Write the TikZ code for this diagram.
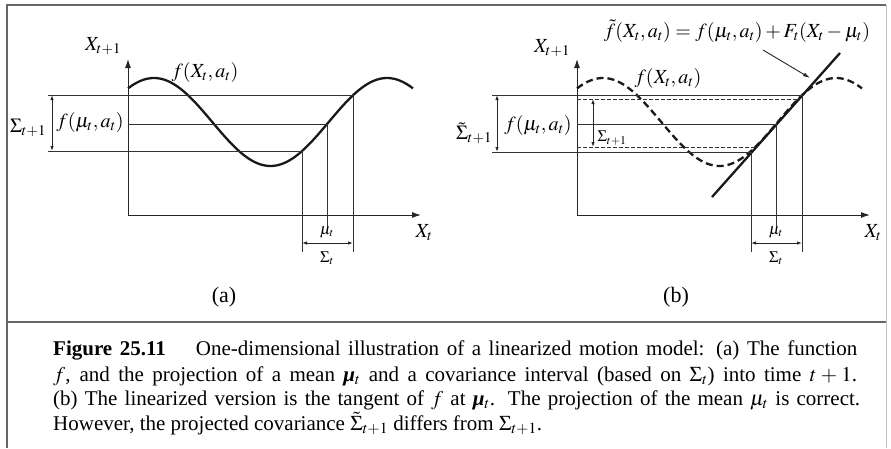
\documentclass[tikz,border=0pt]{standalone}
\usepackage{mathptmx}
\usepackage{amsmath}
\usepackage{fontspec}
\setmainfont{Liberation Serif}
\usetikzlibrary{arrows.meta}
\tikzset{
  frameline/.style={draw=black!60, line width=1.6pt},
  faintline/.style={draw=black!25, line width=1pt},
  axis/.style={draw=black!85, line width=1pt, -{Latex[length=9pt,width=6pt]}},
  guide/.style={draw=black!80, line width=0.9pt},
  dguide/.style={guide, dash pattern=on 4pt off 2pt},
  curve/.style={draw=black!90, line width=2.3pt},
  dcurve/.style={curve, dash pattern=on 7pt off 4pt},
  dimarrow/.style={draw=black!85, line width=0.9pt, {Latex[length=5pt,width=3.5pt]}-{Latex[length=5pt,width=3.5pt]}},
  callout/.style={draw=black!85, line width=0.9pt, -{Latex[length=7pt,width=4pt]}},
  lbl/.style={font=\fontsize{20}{23}\selectfont, inner sep=0pt},
  slbl/.style={font=\fontsize{16}{19}\selectfont, inner sep=0pt},
  panel/.style={font=\fontsize{22}{26}\selectfont, inner sep=0pt},
  capline/.style={font=\fontsize{21}{25}\selectfont, inner sep=0pt, anchor=base west},
}
\newcommand{\boldmu}{\textbf{\textit{μ}}}
\begin{document}
\begin{tikzpicture}[x=1pt,y=-1pt]
\useasboundingbox (0,0) rectangle (891,448);
% frame
\coordinate (fTL) at (7,5);
\coordinate (fTR) at (886,5);
\coordinate (fBL) at (7,448);
\coordinate (fBR) at (886,448);
\coordinate (sL) at (7,322);
\coordinate (sR) at (886,322);
\draw[faintline] (fTR) -- (fBR);
\draw[frameline] (fBL) -- (fTL) -- (fTR);
\draw[frameline] (sL) -- (sR);

% ================= panel (a) =================
\coordinate (aO) at (128,215);
\coordinate (aYtop) at (128,59);
\coordinate (aXend) at (421,215);
\draw[axis] (aO) -- (aYtop);
\draw[axis] (aO) -- (aXend);
\draw[curve] plot[domain=128:413, samples=120, smooth] (\x, {122-44*sin(1.54506*(\x-95.75))});

\coordinate (aTL) at (48,95);   \coordinate (aTR) at (353,95);
\coordinate (aML) at (128,124); \coordinate (aMR) at (327,124);
\coordinate (aBL) at (48,151);  \coordinate (aBR) at (302,151);
\draw[guide] (aTL) -- (aTR);
\draw[guide] (aML) -- (aMR);
\draw[guide] (aBL) -- (aBR);
\coordinate (aTD) at (353,252);
\coordinate (aBD) at (302,252);
\draw[guide] (aTR) -- (aTD);
\draw[guide] (aBR) -- (aBD);
\node[slbl] (amu) at (327,232) {$\mu_t$};
\draw[guide] (aMR) -- (amu.north);
\coordinate (aDL) at (302,243); \coordinate (aDR) at (353,243);
\draw[dimarrow] (aDL) -- (aDR);
\node[slbl] (asig) at (327,258) {$\Sigma_t$};
\coordinate (aVT) at (52,95); \coordinate (aVB) at (52,151);
\draw[dimarrow] (aVT) -- (aVB);
\node[lbl] (asig1) at (28,128) {$\Sigma_{t+1}$};
\node[lbl] (afmu) at (90,122) {$f(\mu_t, a_t)$};
\node[lbl] (afx) at (205,72) {$f(X_t, a_t)$};
\node[lbl] (aylab) at (103,46) {$X_{t+1}$};
\node[lbl] (axlab) at (424,233) {$X_t$};
\node[panel] (apanel) at (224,297) {(a)};

% ================= panel (b) =================
\coordinate (bO) at (577,215);
\coordinate (bYtop) at (577,59);
\coordinate (bXend) at (870,215);
\draw[axis] (bO) -- (bYtop);
\draw[axis] (bO) -- (bXend);
\draw[dcurve] plot[domain=577:862, samples=120, smooth] (\x, {122-44*sin(1.54506*(\x-544.75))});
\coordinate (tanA) at (712,197);
\coordinate (tanB) at (840,53);
\draw[curve] (tanA) -- (tanB);

\coordinate (bTL) at (492,95);  \coordinate (bTR) at (802,95);
\coordinate (bML) at (577,124); \coordinate (bMR) at (776,124);
\coordinate (bBL) at (492,152); \coordinate (bBR) at (751,152);
\draw[guide] (bTL) -- (bTR);
\draw[guide] (bML) -- (bMR);
\draw[guide] (bBL) -- (bBR);
\coordinate (bdTL) at (577,99);  \coordinate (bdTR) at (798,99);
\coordinate (bdBL) at (577,147); \coordinate (bdBR) at (755,147);
\draw[dguide] (bdTL) -- (bdTR);
\draw[dguide] (bdBL) -- (bdBR);
\coordinate (bTD) at (802,252);
\coordinate (bBD) at (751,252);
\draw[guide] (bTR) -- (bTD);
\draw[guide] (bBR) -- (bBD);
\node[slbl] (bmu) at (776,232) {$\mu_t$};
\draw[guide] (bMR) -- (bmu.north);
\coordinate (bDL) at (751,243); \coordinate (bDR) at (802,243);
\draw[dimarrow] (bDL) -- (bDR);
\node[slbl] (bsig) at (776,258) {$\Sigma_t$};
\coordinate (bVT) at (497,95); \coordinate (bVB) at (497,152);
\draw[dimarrow] (bVT) -- (bVB);
\coordinate (biT) at (593,99); \coordinate (biB) at (593,147);
\draw[dimarrow] (biT) -- (biB);
\node[lbl] (bsig1) at (474,133) {$\tilde{\Sigma}_{t+1}$};
\node[slbl] (bsig2) at (612,138) {$\Sigma_{t+1}$};
\node[lbl] (bfmu) at (538,125) {$f(\mu_t, a_t)$};
\node[lbl] (bfx) at (668,78) {$f(X_t, a_t)$};
\node[lbl] (bylab) at (552,48) {$X_{t+1}$};
\node[lbl] (bxlab) at (873,233) {$X_t$};
\node[lbl] (beq) at (737,31) {$\tilde{f}(X_t, a_t) = f(\mu_t, a_t) + F_t(X_t - \mu_t)$};
\coordinate (arrS) at (763,50);
\coordinate (arrE) at (810,78);
\draw[callout] (arrS) -- (arrE);
\node[panel] (bpanel) at (676,297) {(b)};

% ================= caption =================
\node[capline] (cap1) at (53,355) {\makebox[804pt][s]{\textbf{Figure 25.11}\hspace*{30pt}One-dimensional illustration of a linearized motion model: (a) The function}};
\node[capline] (cap2) at (53,381) {\makebox[804pt][s]{$f$, and the projection of a mean \boldmu$_t$ and a covariance interval (based on $\Sigma_t$) into time $t+1$.}};
\node[capline] (cap3) at (53,405) {\makebox[807pt][s]{(b) The linearized version is the tangent of $f$ at \boldmu$_t$. The projection of the mean $\mu_t$ is correct.}};
\node[capline] (cap4) at (53,430) {However, the projected covariance $\tilde{\Sigma}_{t+1}$ differs from $\Sigma_{t+1}$.};
\end{tikzpicture}
\end{document}
